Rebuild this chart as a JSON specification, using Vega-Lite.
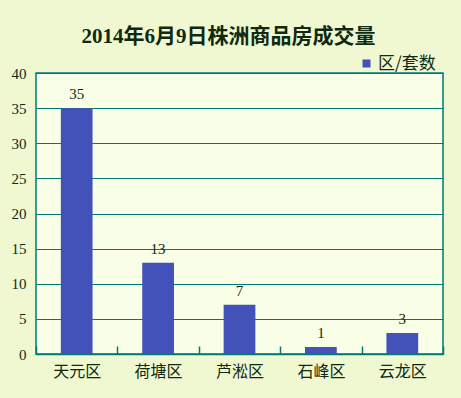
{
  "$schema": "https://vega.github.io/schema/vega-lite/v6.json",
  "width": 407,
  "height": 281,
  "autosize": "none",
  "padding": {"left": 36, "top": 73, "right": 18, "bottom": 44},
  "background": "#F0F8D2",
  "title": {
    "text": "2014年6月9日株洲商品房成交量",
    "font": "Liberation Serif, Noto Sans CJK SC",
    "fontSize": 21,
    "fontWeight": "bold",
    "color": "#0F2A10",
    "anchor": "middle",
    "dx": -11,
    "dy": 18,
    "offset": 26
  },
  "data": {
    "values": [
      {"区": "天元区", "套数": 35},
      {"区": "荷塘区", "套数": 13},
      {"区": "芦淞区", "套数": 7},
      {"区": "石峰区", "套数": 1},
      {"区": "云龙区", "套数": 3}
    ]
  },
  "config": {
    "view": {"fill": "#F9FFE6", "stroke": "#007878", "strokeWidth": 1.5},
    "font": "Liberation Serif, Noto Sans CJK SC"
  },
  "encoding": {
    "x": {
      "field": "区",
      "type": "nominal",
      "sort": null,
      "scale": {"paddingInner": 0, "paddingOuter": 0},
      "axis": {
        "title": null,
        "labelAngle": 0,
        "labelFont": "Noto Sans CJK SC",
        "labelFontSize": 16,
        "labelColor": "#0F2A10",
        "labelPadding": 17,
        "tickBand": "extent",
        "tickSize": -8,
        "tickColor": "#007878",
        "tickWidth": 1.5,
        "domainColor": "#007878",
        "domainWidth": 1.5,
        "grid": false
      }
    },
    "y": {
      "field": "套数",
      "type": "quantitative",
      "scale": {"domain": [0, 40]},
      "axis": {
        "title": null,
        "values": [0, 5, 10, 15, 20, 25, 30, 35, 40],
        "labelFont": "Liberation Serif",
        "labelFontSize": 15,
        "labelColor": "#0F2A10",
        "labelPadding": 10,
        "ticks": false,
        "domain": false,
        "gridColor": "#007878",
        "gridWidth": 1.2,
        "gridOpacity": 1
      }
    }
  },
  "layer": [
    {
      "mark": {"type": "bar", "width": {"band": 0.39}},
      "encoding": {
        "color": {
          "datum": "区/套数",
          "scale": {"range": ["#4352B8"]},
          "legend": {
            "title": null,
            "orient": "none",
            "legendX": 322,
            "legendY": -18,
            "symbolType": "square",
            "symbolSize": 64,
            "symbolStrokeWidth": 0,
            "labelFont": "Noto Sans CJK SC",
            "labelFontSize": 17,
            "labelColor": "#0F2A10",
            "labelOffset": 3
          }
        }
      }
    },
    {
      "mark": {"type": "text", "baseline": "bottom", "dy": -6, "fontSize": 15, "font": "Liberation Serif", "color": "#0F2A10"},
      "encoding": {"text": {"field": "套数", "type": "quantitative"}}
    }
  ]
}
